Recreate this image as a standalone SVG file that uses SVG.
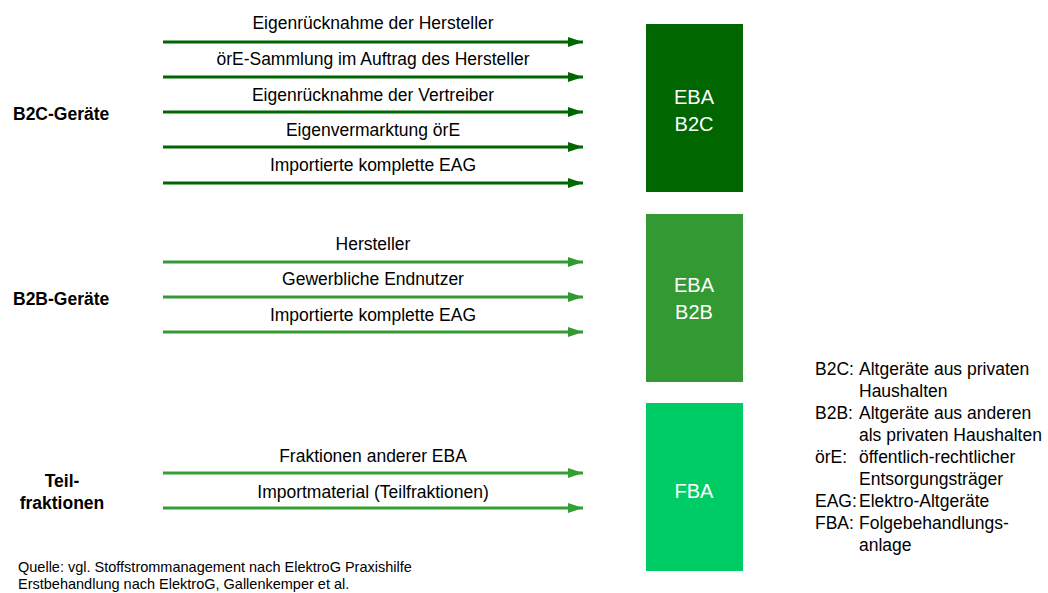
<svg xmlns="http://www.w3.org/2000/svg" width="1048" height="593" viewBox="0 0 1048 593">
<defs>
<marker id="ahD" markerWidth="15" markerHeight="10" refX="15" refY="5" orient="auto" markerUnits="userSpaceOnUse"><path d="M0,0 L15,5 L0,10 Z" fill="#006600"/></marker>
<marker id="ahM" markerWidth="15" markerHeight="10" refX="15" refY="5" orient="auto" markerUnits="userSpaceOnUse"><path d="M0,0 L15,5 L0,10 Z" fill="#339933"/></marker>
<marker id="ahL" markerWidth="15" markerHeight="10" refX="15" refY="5" orient="auto" markerUnits="userSpaceOnUse"><path d="M0,0 L15,5 L0,10 Z" fill="#33a033"/></marker>
</defs>
<style>
text{font-family:"Liberation Sans",Arial,sans-serif;fill:#000}
.lbl{font-size:17.5px;text-anchor:middle}
.grp{font-size:17.5px;font-weight:bold}
.box{font-size:20px;fill:#fff;text-anchor:middle}
.leg{font-size:17.5px}
.src{font-size:14.5px}
.d{stroke:#006600;stroke-width:3;fill:none}
.m{stroke:#339933;stroke-width:3;fill:none}
.l{stroke:#33a033;stroke-width:3;fill:none}
</style>
<rect width="1048" height="593" fill="#fff"/>
<g id="connectors">
<line class="d" x1="163" y1="42" x2="583" y2="42" marker-end="url(#ahD)"/>
<line class="d" x1="163" y1="77" x2="583" y2="77" marker-end="url(#ahD)"/>
<line class="d" x1="163" y1="112" x2="583" y2="112" marker-end="url(#ahD)"/>
<line class="d" x1="163" y1="147" x2="583" y2="147" marker-end="url(#ahD)"/>
<line class="d" x1="163" y1="183" x2="583" y2="183" marker-end="url(#ahD)"/>
<line class="m" x1="163" y1="262" x2="583" y2="262" marker-end="url(#ahM)"/>
<line class="m" x1="163" y1="297" x2="583" y2="297" marker-end="url(#ahM)"/>
<line class="m" x1="163" y1="332" x2="583" y2="332" marker-end="url(#ahM)"/>
<line class="l" x1="163" y1="473" x2="583" y2="473" marker-end="url(#ahL)"/>
<line class="l" x1="163" y1="508" x2="583" y2="508" marker-end="url(#ahL)"/>
</g>
<g id="flow-labels">
<text class="lbl" x="373" y="29">Eigenrücknahme der Hersteller</text>
<text class="lbl" x="373" y="65">örE-Sammlung im Auftrag des Hersteller</text>
<text class="lbl" x="373" y="101">Eigenrücknahme der Vertreiber</text>
<text class="lbl" x="373" y="136">Eigenvermarktung örE</text>
<text class="lbl" x="373" y="171">Importierte komplette EAG</text>
<text class="lbl" x="373" y="250">Hersteller</text>
<text class="lbl" x="373" y="285">Gewerbliche Endnutzer</text>
<text class="lbl" x="373" y="321">Importierte komplette EAG</text>
<text class="lbl" x="373" y="462">Fraktionen anderer EBA</text>
<text class="lbl" x="373" y="498">Importmaterial (Teilfraktionen)</text>
</g>
<g id="group-b2c"><text class="grp" x="13" y="120">B2C-Geräte</text></g>
<g id="group-b2b"><text class="grp" x="13" y="305">B2B-Geräte</text></g>
<g id="group-teil"><text class="grp" x="62" y="487" text-anchor="middle">Teil-</text><text class="grp" x="62" y="509" text-anchor="middle">fraktionen</text></g>
<g id="eba-b2c"><rect x="646" y="24" width="97" height="168" fill="#006600"/><text class="box" x="694" y="104">EBA</text><text class="box" x="694" y="131">B2C</text></g>
<g id="eba-b2b"><rect x="646" y="214" width="97" height="168" fill="#339933"/><text class="box" x="694" y="292">EBA</text><text class="box" x="694" y="319">B2B</text></g>
<g id="fba"><rect x="646" y="403" width="97" height="168" fill="#00cc66"/><text class="box" x="694" y="498">FBA</text></g>
<g id="legend">
<text class="leg" x="815" y="375">B2C:</text><text class="leg" x="859" y="375">Altgeräte aus privaten</text>
<text class="leg" x="859" y="397">Haushalten</text>
<text class="leg" x="815" y="419">B2B:</text><text class="leg" x="859" y="419">Altgeräte aus anderen</text>
<text class="leg" x="859" y="441">als privaten Haushalten</text>
<text class="leg" x="815" y="463">örE:</text><text class="leg" x="859" y="463">öffentlich-rechtlicher</text>
<text class="leg" x="859" y="485">Entsorgungsträger</text>
<text class="leg" x="815" y="507">EAG:</text><text class="leg" x="859" y="507">Elektro-Altgeräte</text>
<text class="leg" x="815" y="529">FBA:</text><text class="leg" x="859" y="529">Folgebehandlungs-</text>
<text class="leg" x="859" y="551">anlage</text>
</g>
<g id="source">
<text class="src" x="18" y="572">Quelle: vgl. Stoffstrommanagement nach ElektroG Praxishilfe</text>
<text class="src" x="18" y="589">Erstbehandlung nach ElektroG, Gallenkemper et al.</text>
</g>
</svg>
